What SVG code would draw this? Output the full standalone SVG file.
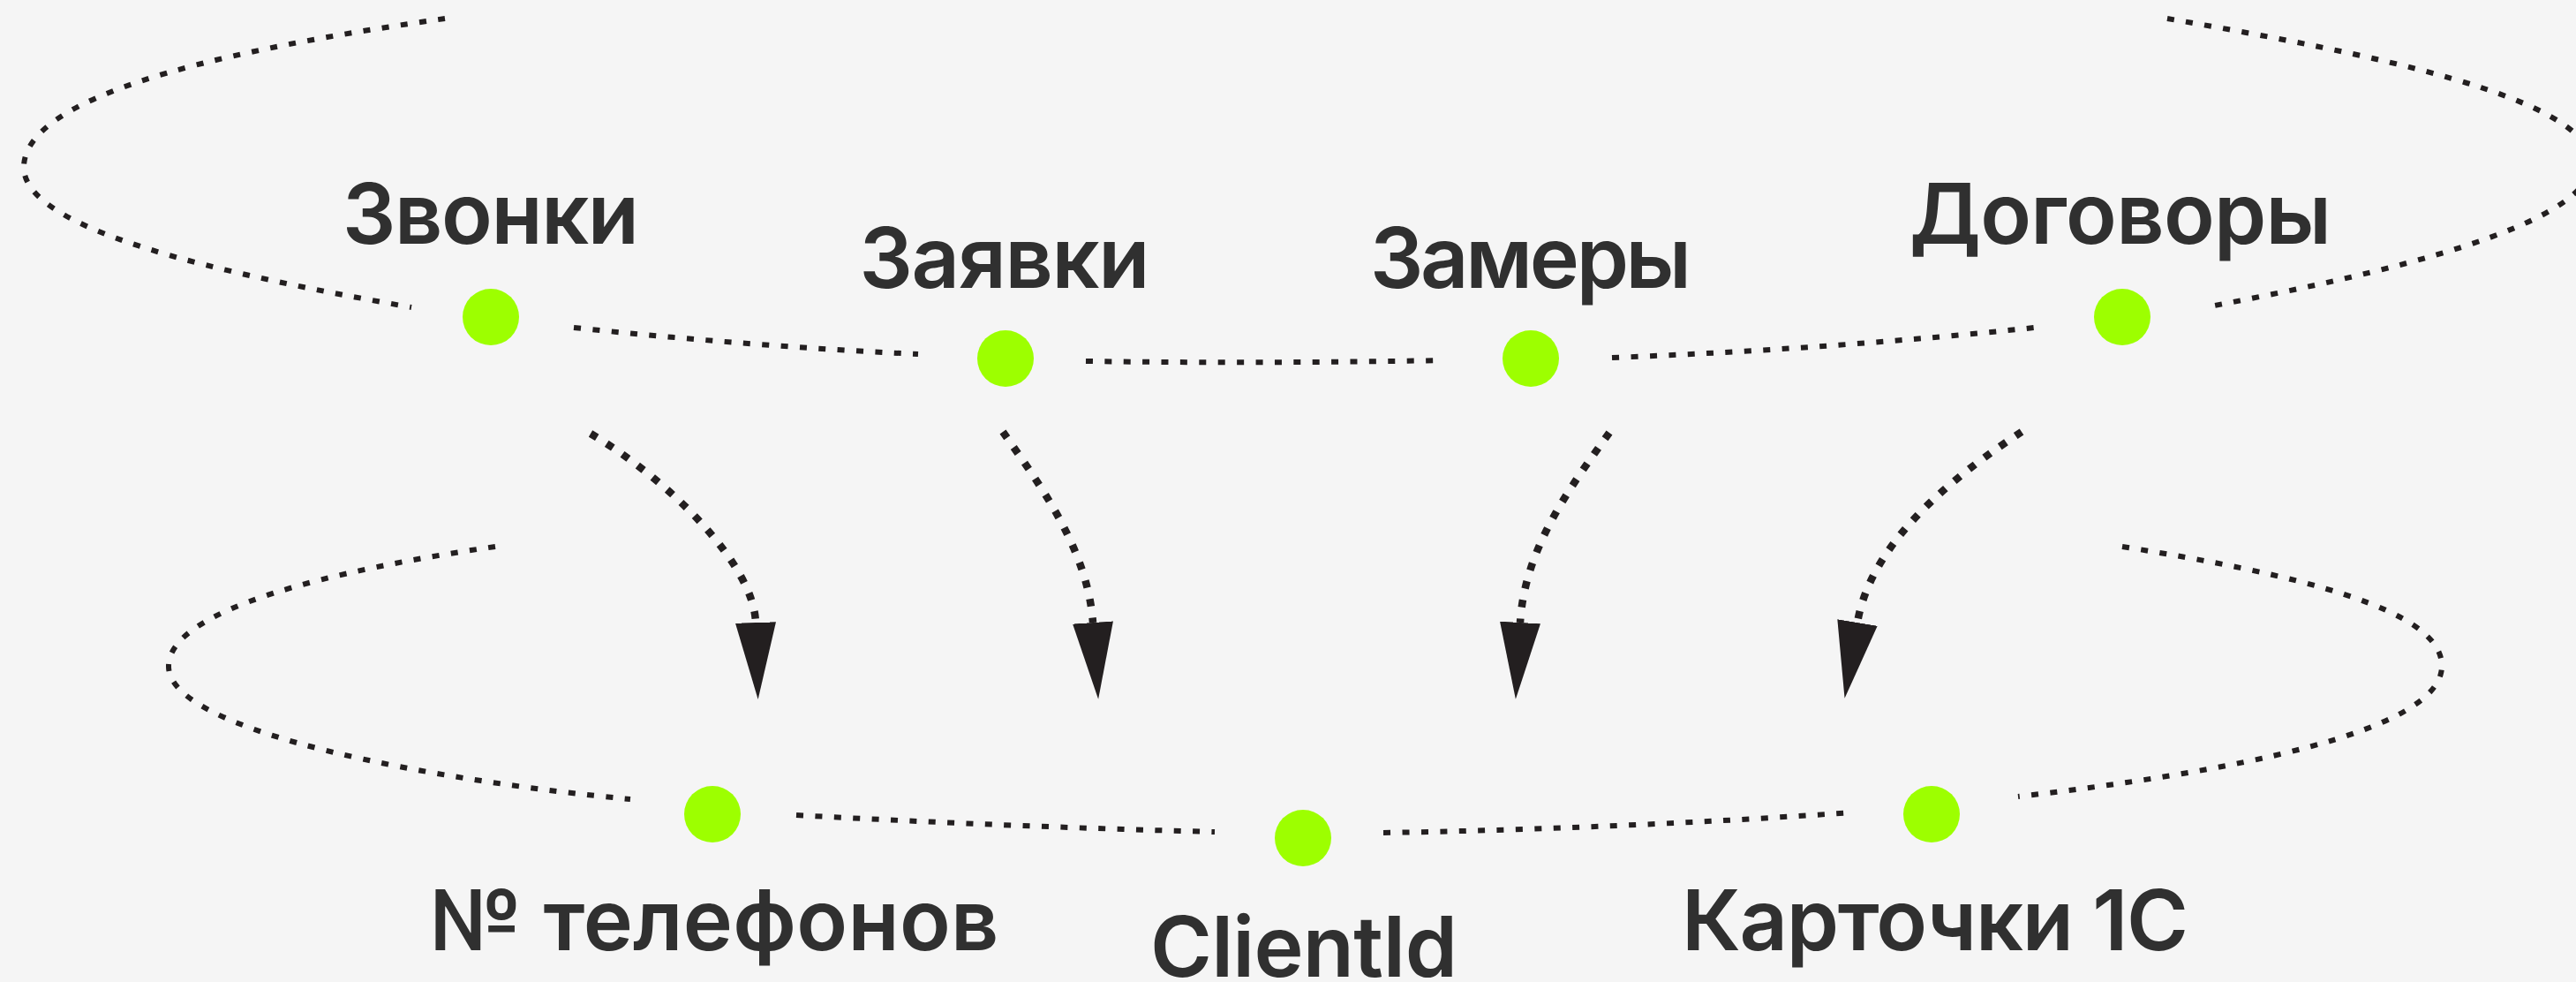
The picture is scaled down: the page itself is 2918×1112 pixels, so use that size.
<svg xmlns="http://www.w3.org/2000/svg" width="2918" height="1112" viewBox="0 0 2918 1112">
  <defs>
    <style>
      .ring { fill: none; stroke: #231f20; stroke-width: 6; stroke-dasharray: 8 13.4; }
      .arrow { fill: none; stroke: #231f20; stroke-width: 8.5; stroke-dasharray: 8.5 13; }
      .dot { fill: #9dff00; }
      .label { font-family: Inter, "Liberation Sans", sans-serif; font-weight: 600; font-size: 95px; fill: #303030; text-anchor: middle; }
    </style>
    <marker id="head" markerUnits="userSpaceOnUse" viewBox="0 -25 90 50" refX="0" refY="0" markerWidth="90" markerHeight="50" orient="auto">
      <path d="M0,-23 L87,0 L0,23 Z" fill="#231f20"/>
    </marker>
  </defs>
  <rect width="2918" height="1112" fill="#f5f5f5"/>

  <g id="connectors">
    <!-- top ring -->
    <path class="ring" d="M504,21 C300,50 30,100 27,188 C24,260 250,310 466,348"/>
    <path class="ring" d="M2455,21 C2680,60 2935,110 2935,185 C2935,255 2700,310 2503,347"/>
    <path class="ring" d="M650,371 Q850,392 1040,401"/>
    <path class="ring" d="M1230,409 Q1432,412 1636,408"/>
    <path class="ring" d="M1826,405 Q2080,395 2314,370"/>
    <!-- bottom ring -->
    <path class="ring" d="M561,619 C380,645 190,690 191,755 C192,830 500,885 714,905"/>
    <path class="ring" d="M902,923 Q1140,936 1376,942"/>
    <path class="ring" d="M1567,943 Q1840,938 2098,920"/>
    <path class="ring" d="M2404,619 C2600,650 2768,690 2766,755 C2764,830 2520,875 2286,902"/>
    <!-- arrows -->
    <path class="arrow" marker-end="url(#head)" d="M669,491 C760,545 854,640 856,705"/>
    <path class="arrow" marker-end="url(#head)" d="M1136,489 C1175,545 1232,620 1238,705"/>
    <path class="arrow" marker-end="url(#head)" d="M1823,490 C1780,550 1727,620 1722,705"/>
    <path class="arrow" marker-end="url(#head)" d="M2290,489 C2220,535 2120,610 2104,705"/>
  </g>

  <g id="node-zvonki">
    <circle class="dot" cx="556" cy="359" r="32"/>
    <text class="label" x="556" y="276" textLength="336">Звонки</text>
  </g>
  <g id="node-zayavki">
    <circle class="dot" cx="1139" cy="406" r="32"/>
    <text class="label" x="1138" y="326" textLength="329">Заявки</text>
  </g>
  <g id="node-zamery">
    <circle class="dot" cx="1734" cy="406" r="32"/>
    <text class="label" x="1734" y="326" textLength="364">Замеры</text>
  </g>
  <g id="node-dogovory">
    <circle class="dot" cx="2404" cy="359" r="32"/>
    <text class="label" x="2402" y="276" textLength="478">Договоры</text>
  </g>
  <g id="node-phones">
    <circle class="dot" cx="807" cy="922" r="32"/>
    <text class="label" x="809" y="1076" textLength="645">№ телефонов</text>
  </g>
  <g id="node-clientid">
    <circle class="dot" cx="1476" cy="949" r="32"/>
    <text class="label" x="1477" y="1106" textLength="348">ClientId</text>
  </g>
  <g id="node-cards">
    <circle class="dot" cx="2188" cy="922" r="32"/>
    <text class="label" x="2192" y="1076" textLength="574">Карточки 1С</text>
  </g>
</svg>
